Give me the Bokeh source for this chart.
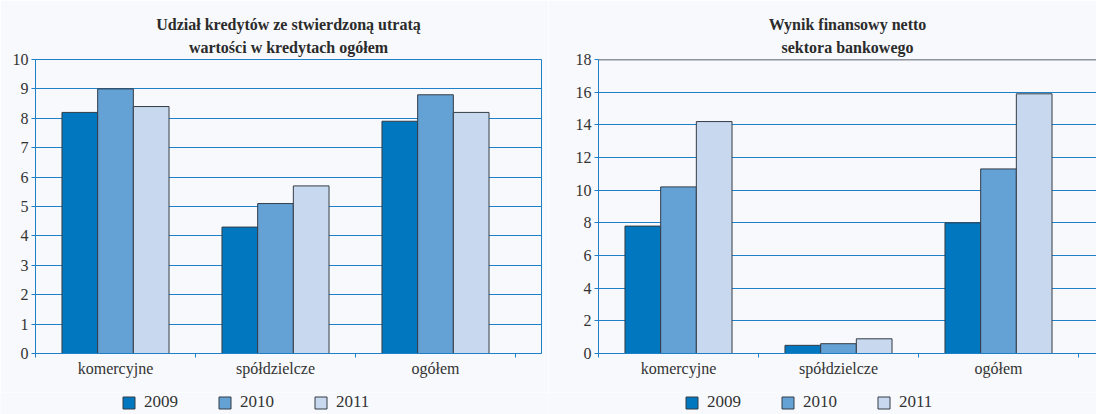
from bokeh.plotting import figure
from bokeh.models import Range1d, FixedTicker, Legend, LegendItem, Span, Title
from bokeh.layouts import row, column
from bokeh.embed import file_html
from bokeh.resources import INLINE

# ---- data ----
categories = ["komercyjne", "spółdzielcze", "ogółem"]
years = ["2009", "2010", "2011"]

left_title = ["Udział kredytów ze stwierdzoną utratą", "wartości w kredytach ogółem"]
left_2009 = [8.2, 4.3, 7.9]
left_2010 = [9.0, 5.1, 8.8]
left_2011 = [8.4, 5.7, 8.2]
left_yticks = [0, 1, 2, 3, 4, 5, 6, 7, 8, 9, 10]

right_title = ["Wynik finansowy netto", "sektora bankowego"]
right_2009 = [7.8, 0.5, 8.0]
right_2010 = [10.2, 0.6, 11.3]
right_2011 = [14.2, 0.9, 15.9]
right_yticks = [0, 2, 4, 6, 8, 10, 12, 14, 16, 18]

# ---- style ----
colors = ["#0077be", "#64a2d6", "#c8d8ee"]
BG = "#f7f9fc"
BLUE = "#1f80c8"
TEXT = "#333333"
FONT = "Liberation Serif"
BAR_W = 0.223
MAIN_H = 392
LEG_H = 22


def bar_x(k):
    offsets = [-BAR_W, 0.0, BAR_W]
    return [i + 0.5 + offsets[k] for i in range(len(categories))]


def make_chart(title_lines, series, yticks, width, left, right, xmax, blue_outline, title_offset):
    ymax = yticks[-1]
    p = figure(width=width, height=MAIN_H, output_backend="svg", toolbar_location=None,
               x_range=Range1d(0, xmax), y_range=Range1d(0, ymax), title=None,
               min_border_left=left, min_border_right=right,
               min_border_top=59, min_border_bottom=MAIN_H - 353)
    p.background_fill_color = BG
    p.border_fill_color = BG
    p.outline_line_color = BLUE if blue_outline else None

    centers = [i + 0.5 for i in range(len(categories))]
    for k, vals in enumerate(series):
        p.vbar(x=bar_x(k), top=vals, bottom=0, width=BAR_W, fill_color=colors[k],
               line_color="#343c46", line_width=1)

    # x axis: labels at category centres, ticks at boundaries
    xa = p.xaxis[0]
    xa.ticker = FixedTicker(ticks=centers, minor_ticks=list(range(len(categories) + 1)))
    xa.major_label_overrides = {c: cat for c, cat in zip(centers, categories)}
    xa.major_tick_out = 0
    xa.major_tick_in = 0
    xa.minor_tick_out = 4
    xa.minor_tick_in = 0
    xa.minor_tick_line_color = BLUE
    xa.axis_line_color = BLUE
    xa.major_label_standoff = 2
    xa.major_label_text_font = FONT
    xa.major_label_text_font_size = "16px"
    xa.major_label_text_color = TEXT

    ya = p.yaxis[0]
    ya.ticker = FixedTicker(ticks=yticks)
    ya.major_tick_out = 4
    ya.major_tick_in = 0
    ya.minor_tick_line_color = None
    ya.major_tick_line_color = BLUE
    ya.axis_line_color = BLUE
    ya.major_label_standoff = 3
    ya.major_label_text_font = FONT
    ya.major_label_text_font_size = "16px"
    ya.major_label_text_color = TEXT

    p.xgrid.visible = False
    p.ygrid[0].ticker = FixedTicker(ticks=yticks)
    p.ygrid.grid_line_color = BLUE
    p.ygrid.grid_line_width = 1

    if not blue_outline:
        p.add_layout(Span(location=ymax, dimension="width", line_color="#25303c", line_width=1.5))

    # two centred title lines: the one added first sits nearest the plot
    for line, standoff in zip(reversed(title_lines), [8, 0]):
        p.add_layout(Title(text=line, align="center", text_font=FONT, text_font_style="bold",
                           text_font_size="16px", text_color="#2b2b2b", standoff=standoff,
                           offset=title_offset), "above")
    return p


def make_legend(width, x0, series):
    lf = figure(width=width, height=LEG_H, output_backend="svg", toolbar_location=None,
                x_axis_type=None, y_axis_type=None, title=None,
                min_border_left=0, min_border_right=0, min_border_top=0, min_border_bottom=0)
    lf.background_fill_color = BG
    lf.border_fill_color = BG
    lf.outline_line_color = None
    lf.grid.visible = False
    items = []
    for k, (yr, vals) in enumerate(zip(years, series)):
        # hidden series renderer, used only as the legend swatch
        r = lf.vbar(x=bar_x(k), top=vals, width=BAR_W, fill_color=colors[k],
                    line_color="#343c46", line_width=1, visible=False)
        items.append(LegendItem(label=yr, renderers=[r]))
    legend = Legend(items=items, orientation="horizontal", location=(x0, 2),
                    padding=0, margin=0, spacing=39, label_standoff=8,
                    glyph_width=15, glyph_height=15, label_height=15,
                    label_text_font=FONT, label_text_font_size="17px",
                    label_text_color=TEXT, border_line_color=None,
                    background_fill_alpha=0, inactive_fill_alpha=0)
    lf.add_layout(legend, "center")
    return lf


left_series = [left_2009, left_2010, left_2011]
right_series = [right_2009, right_2010, right_2011]

p1 = make_chart(left_title, left_series, left_yticks, 548, 35, 7, 506 / 160, True, 0)
p2 = make_chart(right_title, right_series, right_yticks, 548, 50, 0, 498 / 160, False, -5)
l1 = make_legend(548, 121, left_series)
l2 = make_legend(548, 136, right_series)

layout = column(row(p1, p2), row(l1, l2))
open("out.html", "w").write(file_html(layout, INLINE))
